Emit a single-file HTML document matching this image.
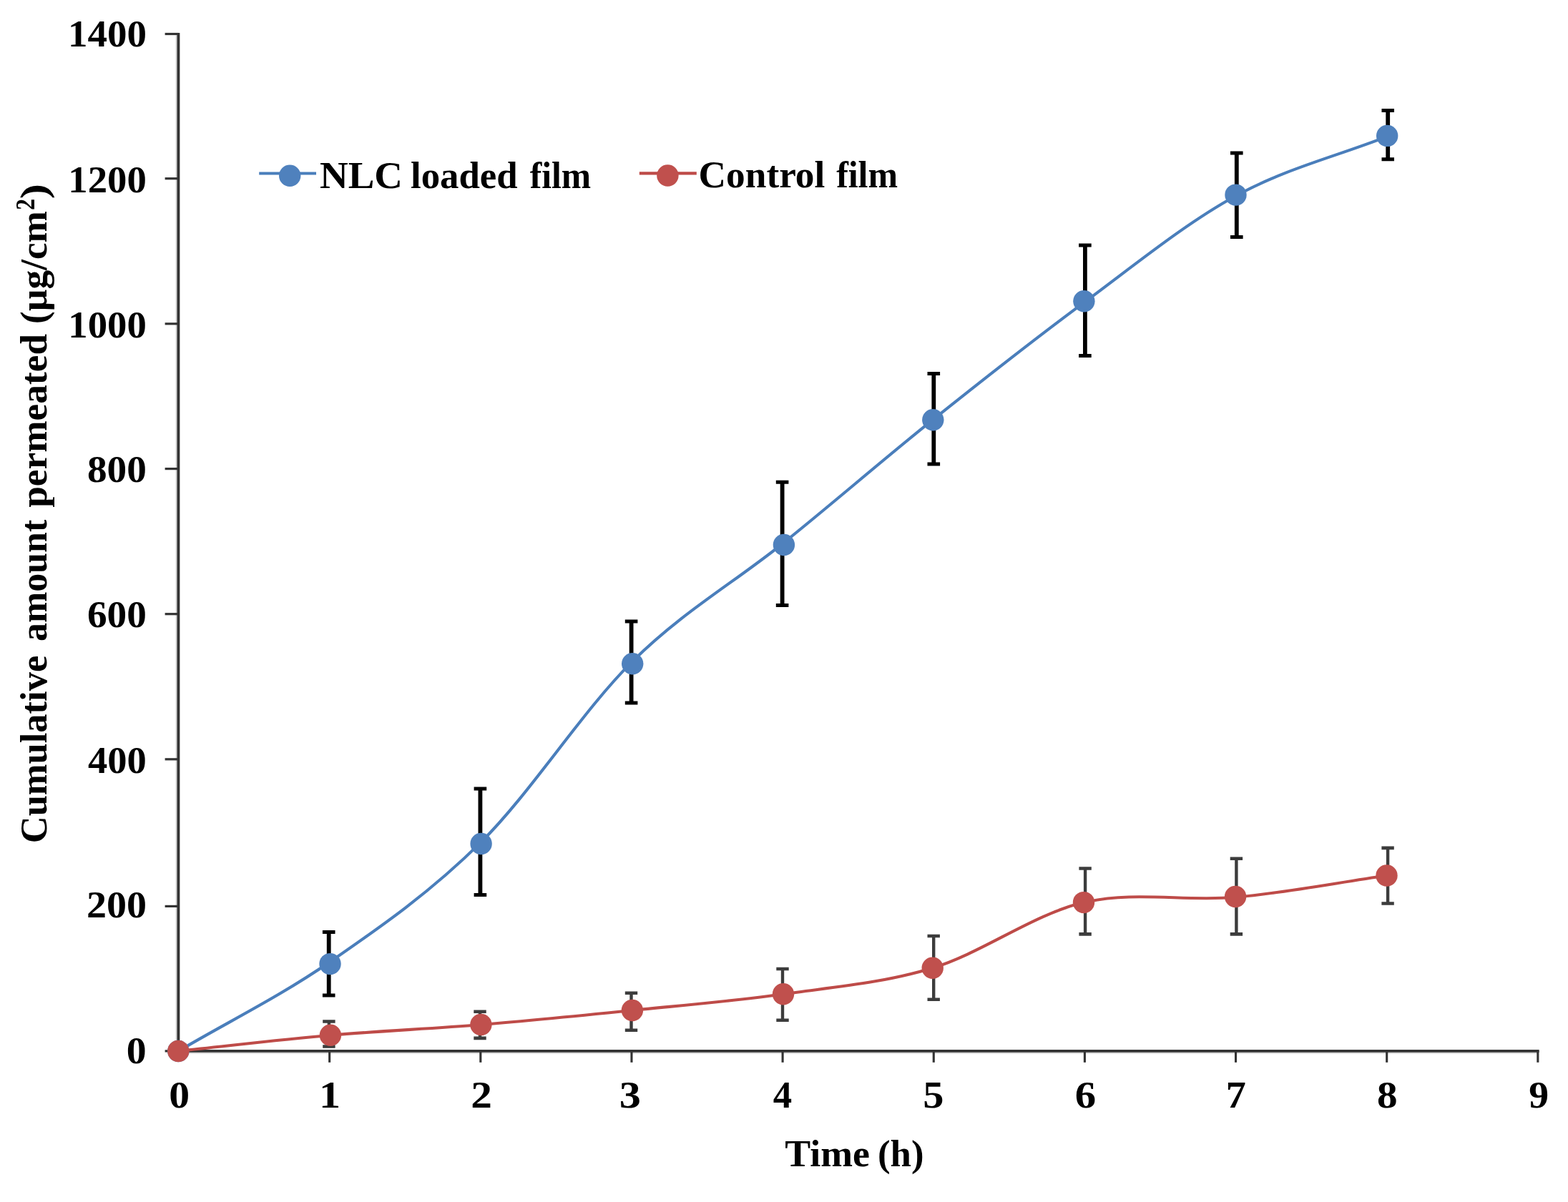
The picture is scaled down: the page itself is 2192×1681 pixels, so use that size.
<!DOCTYPE html>
<html lang="en"><head><meta charset="utf-8"><title>Cumulative amount permeated - Time (h)</title>
<style>html,body{margin:0;padding:0;background:#fff;}body{width:2192px;height:1681px;overflow:hidden;}svg{display:block;filter:blur(0.7px);}text{font-family:"Liberation Serif","DejaVu Serif",serif;font-weight:bold;font-size:52px;fill:#000;}</style></head><body>
<svg width="2192" height="1681" viewBox="0 0 2192 1681">
<rect width="2192" height="1681" fill="#fff"/>
<g fill="none" stroke="#d4d4d4" stroke-width="2">
<path d="M246.60 49.50 V1467.90"/>
<path d="M251.50 1472.60 H2149.85"/>
</g>
<g stroke="#333" stroke-width="3.6" fill="none">
<path stroke-width="3.9" d="M249.40 45.90 V1471.70"/>
<path d="M247.70 1469.90 H2151.65"/>
<path stroke-width="3.1" d="M460.65 1469.90 V1485.80"/>
<path stroke-width="3.1" d="M671.80 1469.90 V1485.80"/>
<path stroke-width="3.1" d="M882.95 1469.90 V1485.80"/>
<path stroke-width="3.1" d="M1094.10 1469.90 V1485.80"/>
<path stroke-width="3.1" d="M1305.25 1469.90 V1485.80"/>
<path stroke-width="3.1" d="M1516.40 1469.90 V1485.80"/>
<path stroke-width="3.1" d="M1727.55 1469.90 V1485.80"/>
<path stroke-width="3.1" d="M1938.70 1469.90 V1485.80"/>
<path stroke-width="3.1" d="M2149.85 1469.90 V1485.80"/>
</g>
<g stroke="#333" stroke-width="3.2" fill="none">
<path d="M230.60 1469.90 H249.50"/>
<path d="M230.60 1267.40 H249.50"/>
<path d="M230.60 1061.80 H249.50"/>
<path d="M230.60 858.70 H249.50"/>
<path d="M230.60 655.60 H249.50"/>
<path d="M230.60 452.80 H249.50"/>
<path d="M230.60 249.70 H249.50"/>
<path d="M230.60 47.50 H249.50"/>
</g>
<g>
<text y="65.1"><tspan x="94.94" textLength="109.98" lengthAdjust="spacingAndGlyphs">1400</tspan></text>
<text y="268.9"><tspan x="95.36" textLength="109.45" lengthAdjust="spacingAndGlyphs">1200</tspan></text>
<text y="471.7"><tspan x="95.36" textLength="109.45" lengthAdjust="spacingAndGlyphs">1000</tspan></text>
<text y="673.9"><tspan x="121.94" textLength="82.88" lengthAdjust="spacingAndGlyphs">800</tspan></text>
<text y="876.7"><tspan x="121.94" textLength="82.88" lengthAdjust="spacingAndGlyphs">600</tspan></text>
<text y="1080.7"><tspan x="123.01" textLength="81.78" lengthAdjust="spacingAndGlyphs">400</tspan></text>
<text y="1283.4"><tspan x="120.91" textLength="84.04" lengthAdjust="spacingAndGlyphs">200</tspan></text>
<text y="1486.9"><tspan x="176.65" textLength="27.89" lengthAdjust="spacingAndGlyphs">0</tspan></text>
<text y="1549.0"><tspan x="236.28" textLength="28.84" lengthAdjust="spacingAndGlyphs">0</tspan></text>
<text y="1549.0"><tspan x="446.02" textLength="30.11" lengthAdjust="spacingAndGlyphs">1</tspan></text>
<text y="1549.0"><tspan x="658.38" textLength="29.64" lengthAdjust="spacingAndGlyphs">2</tspan></text>
<text y="1549.0"><tspan x="865.88" textLength="30.15" lengthAdjust="spacingAndGlyphs">3</tspan></text>
<text y="1549.0"><tspan x="1080.84" textLength="26.38" lengthAdjust="spacingAndGlyphs">4</tspan></text>
<text y="1549.0"><tspan x="1290.21" textLength="29.19" lengthAdjust="spacingAndGlyphs">5</tspan></text>
<text y="1549.0"><tspan x="1502.82" textLength="29.37" lengthAdjust="spacingAndGlyphs">6</tspan></text>
<text y="1549.0"><tspan x="1713.76" textLength="28.09" lengthAdjust="spacingAndGlyphs">7</tspan></text>
<text y="1549.0"><tspan x="1924.98" textLength="28.54" lengthAdjust="spacingAndGlyphs">8</tspan></text>
<text y="1549.0"><tspan x="2137.33" textLength="27.89" lengthAdjust="spacingAndGlyphs">9</tspan></text>
</g>
<text y="1631.3"><tspan x="1097.32" textLength="118.66" lengthAdjust="spacingAndGlyphs">Time</tspan> <tspan x="1227.02" textLength="64.52" lengthAdjust="spacingAndGlyphs">(h)</tspan></text>
<text transform="translate(65 0) rotate(-90)" y="0"><tspan x="-1179.22" textLength="262.41" lengthAdjust="spacingAndGlyphs">Cumulative</tspan> <tspan x="-897.07" textLength="170.25" lengthAdjust="spacingAndGlyphs">amount</tspan> <tspan x="-709.84" textLength="242.90" lengthAdjust="spacingAndGlyphs">permeated</tspan> <tspan x="-453.11" textLength="158.20" lengthAdjust="spacingAndGlyphs">(µg/cm</tspan><tspan x="-293.65" textLength="15.80" lengthAdjust="spacingAndGlyphs" y="-17" font-size="38">2</tspan><tspan x="-278.19" textLength="21.23" lengthAdjust="spacingAndGlyphs" y="0">)</tspan></text>
<path d="M249.30 1470.00 C320.03 1428.33 390.95 1393.73 461.50 1345.00 C532.05 1296.27 602.14 1247.62 672.60 1177.60 C743.06 1107.57 813.70 994.65 884.25 924.85 C954.80 855.05 1025.89 815.12 1095.90 758.80 C1165.91 702.47 1234.38 642.85 1304.30 586.90 C1374.22 530.95 1444.87 475.25 1515.40 423.10 C1585.93 370.95 1656.86 312.70 1727.50 274.00 C1798.14 235.30 1868.67 218.60 1939.25 190.90" fill="none" stroke="#4a7ebb" stroke-width="4.1" stroke-linecap="round" stroke-linejoin="round"/>
<g stroke="#000" fill="none"><path stroke-width="5.8" d="M459.7 1303.4 V1392.1"/><path stroke-width="5.0" d="M450.9 1303.4 H468.5 M450.9 1392.1 H468.5"/><path stroke-width="5.8" d="M671.4 1103.1 V1251.5"/><path stroke-width="5.0" d="M662.6 1103.1 H680.2 M662.6 1251.5 H680.2"/><path stroke-width="5.8" d="M882.6 868.9 V983.0"/><path stroke-width="5.0" d="M873.8 868.9 H891.4 M873.8 983.0 H891.4"/><path stroke-width="5.8" d="M1093.6 674.2 V846.4"/><path stroke-width="5.0" d="M1084.8 674.2 H1102.4 M1084.8 846.4 H1102.4"/><path stroke-width="5.8" d="M1305.3 522.6 V648.9"/><path stroke-width="5.0" d="M1296.5 522.6 H1314.1 M1296.5 648.9 H1314.1"/><path stroke-width="5.8" d="M1516.9 342.9 V497.5"/><path stroke-width="5.0" d="M1508.1 342.9 H1525.7 M1508.1 497.5 H1525.7"/><path stroke-width="5.8" d="M1728.8 214.1 V331.4"/><path stroke-width="5.0" d="M1720.0 214.1 H1737.6 M1720.0 331.4 H1737.6"/><path stroke-width="5.8" d="M1940.2 154.6 V222.8"/><path stroke-width="5.0" d="M1931.5 154.6 H1949.0 M1931.5 222.8 H1949.0"/></g>
<g fill="#4f81bd"><circle cx="249.3" cy="1470.0" r="15.2"/><circle cx="461.5" cy="1348.1" r="15.2"/><circle cx="672.6" cy="1180.0" r="15.2"/><circle cx="884.2" cy="928.2" r="15.2"/><circle cx="1095.9" cy="762.0" r="15.2"/><circle cx="1304.3" cy="587.3" r="15.2"/><circle cx="1515.4" cy="421.3" r="15.2"/><circle cx="1727.5" cy="272.6" r="15.2"/><circle cx="1939.2" cy="189.9" r="15.2"/></g>
<path d="M249.30 1470.00 C320.17 1462.60 391.38 1453.97 461.90 1447.80 C532.42 1441.63 602.07 1438.80 672.40 1433.00 C742.73 1427.20 813.47 1420.13 883.90 1413.00 C954.33 1405.87 1024.98 1400.08 1094.95 1390.20 C1164.92 1380.32 1233.68 1375.05 1303.70 1353.70 C1373.72 1332.35 1444.48 1278.58 1515.05 1262.10 C1585.62 1245.62 1656.52 1261.07 1727.10 1254.80 C1797.67 1248.53 1868.03 1234.60 1938.50 1224.50" fill="none" stroke="#be4b48" stroke-width="4.1" stroke-linecap="round" stroke-linejoin="round"/>
<g stroke="#3c3c3c" fill="none"><path stroke-width="4.4" d="M459.9 1428.5 V1463.5"/><path stroke-width="4.6" d="M451.2 1428.5 H468.6 M451.2 1463.5 H468.6"/><path stroke-width="4.4" d="M671.0 1414.7 V1451.9"/><path stroke-width="4.6" d="M662.3 1414.7 H679.7 M662.3 1451.9 H679.7"/><path stroke-width="4.4" d="M882.5 1388.8 V1440.8"/><path stroke-width="4.6" d="M873.8 1388.8 H891.2 M873.8 1440.8 H891.2"/><path stroke-width="4.4" d="M1094.0 1355.0 V1426.7"/><path stroke-width="4.6" d="M1085.3 1355.0 H1102.7 M1085.3 1426.7 H1102.7"/><path stroke-width="4.4" d="M1305.2 1309.0 V1397.7"/><path stroke-width="4.6" d="M1296.5 1309.0 H1313.9 M1296.5 1397.7 H1313.9"/><path stroke-width="4.4" d="M1517.1 1214.5 V1306.4"/><path stroke-width="4.6" d="M1508.4 1214.5 H1525.8 M1508.4 1306.4 H1525.8"/><path stroke-width="4.4" d="M1728.4 1200.7 V1306.4"/><path stroke-width="4.6" d="M1719.7 1200.7 H1737.1 M1719.7 1306.4 H1737.1"/><path stroke-width="4.4" d="M1940.1 1185.9 V1263.5"/><path stroke-width="4.6" d="M1931.4 1185.9 H1948.8 M1931.4 1263.5 H1948.8"/></g>
<g fill="#c0504d"><circle cx="249.3" cy="1470.0" r="15.2"/><circle cx="461.9" cy="1447.8" r="15.2"/><circle cx="672.4" cy="1433.0" r="15.2"/><circle cx="883.9" cy="1413.0" r="15.2"/><circle cx="1095.0" cy="1390.2" r="15.2"/><circle cx="1303.7" cy="1353.7" r="15.2"/><circle cx="1515.0" cy="1262.1" r="15.2"/><circle cx="1727.1" cy="1254.0" r="15.2"/><circle cx="1938.5" cy="1224.5" r="15.2"/></g>
<path d="M362.2 242.5 H442" stroke="#4a7ebb" stroke-width="4.1"/><circle cx="405.2" cy="245.8" r="15.2" fill="#4f81bd"/>
<text y="262.6"><tspan x="447.04" textLength="115.89" lengthAdjust="spacingAndGlyphs">NLC</tspan> <tspan x="573.98" textLength="149.74" lengthAdjust="spacingAndGlyphs">loaded</tspan> <tspan x="740.74" textLength="85.42" lengthAdjust="spacingAndGlyphs">film</tspan></text>
<path d="M893.8 242.4 H973.8" stroke="#be4b48" stroke-width="4.1"/><circle cx="933.4" cy="245.5" r="15.2" fill="#c0504d"/>
<text y="262.4"><tspan x="976.64" textLength="176.66" lengthAdjust="spacingAndGlyphs">Control</tspan> <tspan x="1169.14" textLength="85.93" lengthAdjust="spacingAndGlyphs">film</tspan></text>
</svg></body></html>
